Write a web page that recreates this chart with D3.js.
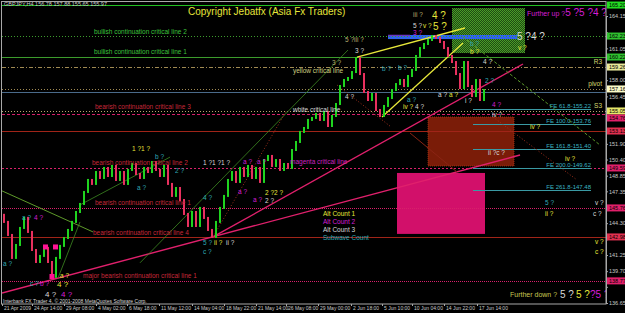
<!DOCTYPE html>
<html>
<head>
<meta charset="utf-8">
<script src="https://cdn.jsdelivr.net/npm/d3@7"></script>
<style>
body { margin: 0; background: #000; }
svg { display: block; font-family: "Liberation Sans", Arial, sans-serif; }
</style>
</head>
<body>
<svg id="chart" width="625" height="313"></svg>
<script>
// ---- data ----
// closes, one per 4px column (about two H4 bars each)
var firstOpen = 145.10;
var closes = [144.42,143.17,140.97,142.21,143.84,144.80,143.46,141.73,140.58,141.16,
  141.93,140.58,139.15,140.97,142.12,142.88,143.65,144.42,145.37,146.14,
  147.29,148.44,148.06,149.20,148.63,149.59,148.82,149.78,148.44,149.20,
  148.06,149.40,149.97,149.01,148.63,149.59,149.20,150.16,149.40,148.82,
  149.78,148.06,146.91,147.67,146.52,145.18,144.03,145.37,144.03,145.76,
  144.80,143.65,142.98,144.42,145.76,146.91,148.44,149.20,148.25,149.59,
  148.82,149.78,148.63,149.59,148.25,150.35,150.74,149.78,150.35,149.40,
  149.97,149.59,151.31,152.08,153.04,153.42,154.19,154.38,154.76,154.19,
  154.95,153.61,154.57,155.72,157.44,158.02,158.21,158.78,160.12,158.59,
  156.87,156.10,156.68,155.14,154.57,155.53,156.29,157.06,157.63,158.02,
  157.44,158.40,158.98,160.32,161.08,161.47,161.85,162.23,162.04,161.66,
  161.08,160.32,159.74,158.59,157.25,159.74,157.44,156.48,158.02,156.10,
  157.06];

var priceTicks = [164.15,162.60,161.05,159.50,158.00,156.45,154.90,153.40,151.90,150.40,
  148.85,147.35,145.80,144.30,142.75,141.25,139.70,138.20,136.65];

var dateIdx = [0,7.5,15.5,23.5,31.25,39.25,47.5,55.5,63.5,71,79,87.25,95,102.5,110.5,118.75];
var dateLabels = ["21 Apr 2009","24 Apr 14:00","29 Apr 08:00","4 May 02:00","6 May 18:00",
  "11 May 12:00","14 May 04:00","18 May 22:00","21 May 14:00","26 May 08:00","29 May 00:00",
  "2 Jun 18:00","5 Jun 10:00","10 Jun 04:00","14 Jun 22:00","17 Jun 14:00"];

// horizontal levels
var levelPrices = [165.20,162.23,160.22,159.26,157.16,156.87,155.05,154.76,153.13,149.59,145.76,142.98,138.77];
var levelKinds  = ["top","bull2","bull1","R3","pivot","bid","S3","bear3","red","bear2","bear1","bear4","major"];

// level names written on the chart [index, price, text, kind]
var levelNames = [
  [23, 162.61, "bullish continuation critical line 2", "bull"],
  [23, 160.70, "bullish continuation critical line 1", "bull"],
  [72.75, 158.88, "yellow critical line", "yellow"],
  [72.75, 155.14, "white critical line", "white"],
  [23.25, 155.43, "bearish continuation critical line 3", "bear"],
  [22.5, 150.07, "bearish continuation critical line 2", "bear"],
  [72, 150.16, "magenta critical line", "magenta"],
  [23.25, 146.24, "bearish continuation critical line 1", "bear"],
  [22.75, 143.36, "bearish continuation critical line 4", "bear"],
  [20.25, 139.24, "major bearish continuation critical line 1", "bear"],
  [150, 159.74, "R3", "pivotTxt"],
  [150, 157.63, "pivot", "pivotTxt"],
  [150, 155.53, "S3", "pivotTxt"]
];

// Fibonacci expansion levels
var feLevels = [155.22,153.76,151.40,149.62,147.48];
var feNames = ["FE 61.8-155.22","FE 100.0-153.76","FE 161.8-151.40","FE 200.0-149.62","FE 261.8-147.48"];
var feFrom = 117.75, feTo = 147.25;

// trend lines [i0, p0, i1, p1, kind]
var trendLines = [
  [88.75,160.22,115.75,163.00,"yellow"],
  [95,154.47,115.25,161.56,"yellow"],
  [52.75,142.98,130.25,159.55,"pink"],
  [0,137.61,129.5,150.83,"pink"],
  [115.25,162.14,149.5,151.79,"greenDash"],
  [-0.5,147.48,22.75,143.46,"green"],
  [34.5,140.50,86.5,160.89,"greenThin"],
  [19.5,146.05,42,150.63,"greenThin"],
  [14,139.04,19.5,144.42,"greenThin"],
  [83.75,157.54,97,153.60,"redDot"],
  [122.75,154.47,143.75,148.44,"redDot"],
  [102,152.94,113.75,149.20,"redLine"],
  [52.75,142.98,71,155.00,"redDot"]
];

// zones [i0, p0, i1, p1, kind]
var zones = [
  [112.5,164.91,130.75,160.60,"greenZone"],
  [106.5,154.47,128,149.78,"brownZone"],
  [98.75,149.11,120.75,143.27,"magentaZone"],
  [96.5,162.33,128.75,161.94,"blueBar"]
];

// pink square markers [index, price]
var markers = [[10.875,142.02],[13.375,142.02],[12.5,139.19]];

// wave counts [index, price, text, count]  count: 1 alt1, 2 alt2, 3 alt3, 4 subwave, 5 khaki
var waves = [
  [102.75,164.24,"iii ?",5],[102.75,163.19,"5 ?",3],[105.25,163.19,"v ?",1],[102.75,162.52,"3 ?",2],
  [85.75,161.85,"5 ?iii ?",5],[88.25,160.80,"3 ?",3],[82.5,159.65,"3 ?",5],
  [95,159.07,"b ?",4],[99,159.17,"b ?",4],[85.75,156.39,"4 ?",3],[101.25,156.10,"a ?",4],
  [100.25,155.43,"iv ?",1],[103.25,155.43,"4 ?",3],[109,156.58,"a ?",3],[111.75,156.58,"a ?",1],
  [115.75,156.01,"i ?",3],[120.75,157.92,"2 ?",4],[122.5,155.62,"4 ?",2],[122.5,154.67,"iv ?",3],
  [117,161.47,"b ?",4],[117,160.70,"b ?",1],[129,161.08,"v ?",1],[120.25,159.74,"4 ?",3],
  [132,153.52,"iv ?",1],[121.5,151.03,"ii ?c ?",3],[140.75,150.50,"iv ?",1],
  [135.75,145.18,"ii ?",1],[147.75,145.18,"c ?",3],[148.25,146.24,"v ?",3],[135.75,146.24,"5 ?",4],
  [148.25,142.50,"v ?",1],[148.25,141.54,"c ?",1],
  [7,138.48,"c ?",4],[9.5,138.48,"b ?",2],[14.5,139.24,"a ?",1],[5,144.80,"a ?",4],[8,144.80,"4 ?",2],
  [0.25,140.39,"a ?",4],[32.5,151.41,"1 ?1 ?",1],[38.25,150.64,"b ?",4],[33.75,147.67,"a ?",4],
  [43.25,149.30,"2 ?",4],[50.25,150.07,"1 ?1 ?1 ?",3],[60.25,150.16,"a ?",2],[63.75,150.16,"a ?",2],
  [59,147.29,"a ?",2],[62.75,146.52,"a ?",2],[65.75,147.19,"2 ?2 ?",1],[65.75,146.43,"2 ?",3],
  [50.25,146.72,"4 ?",4],[50.25,142.40,"5 ?",4],[53,142.40,"ii ?",1],[56,142.40,"ii ?",3],
  [50.25,141.54,"c ?",4]
];
// larger wave counts
var bigWaves = [
  [107.5,164.24,"4 ?",1],[107.75,163.19,"5 ?",1],[128.75,162.14,"5 ?4 ?",3],
  [139.5,137.42,"5 ?",3],[143.5,137.42,"5 ?",1],[147,137.42,"?5 ?",2]
];
// medium counts down at the April low
var lowWaves = [
  [13.75,138.45,"4 ?",1],[10.75,137.48,"4 ?",3],[14.75,137.48,"4 ?",2]
];
var countNames = ["Alt Count 1","Alt Count 2","Alt Count 3","Subwave Count"];

// ---- drawing ----
var W = 625, H = 313;
var svg = d3.select("#chart");
svg.append("rect").attr("width", W).attr("height", H).attr("fill", "#000");

var x = d3.scaleLinear().domain([0, 151]).range([2, 606]);
var y = d3.scaleLinear().domain([136.65, 164.15]).range([303, 16]);

var countColor = {1: "#e6e63a", 2: "#d61ed6", 3: "#d8d8d8", 4: "#2fa8b4", 5: "#b8b070"};

var levelStyle = {
  top:   {c: "#22c022", d: null, w: 1.2, box: "#22dd22"},
  bull2: {c: "#3c9c2c", d: "1,2", w: 1, box: "#2fc02f"},
  bull1: {c: "#3c9c2c", d: null, w: 1, box: "#2fc02f"},
  R3:    {c: "#a08a52", d: "4,2,1,2", w: 1, box: "#e8e89a"},
  pivot: {c: "#a08a52", d: "1,2", w: 1, box: "#fbfbc8"},
  bid:   {c: "#4a6a8a", d: null, w: 1, box: null},
  S3:    {c: "#b8a870", d: "1,2", w: 1, box: "#e6e66a"},
  bear3: {c: "#d8206a", d: "3,2", w: 1, box: "#e0206a"},
  red:   {c: "#a02418", d: null, w: 1, box: "#e03050"},
  bear2: {c: "#d8206a", d: "2,2", w: 1, box: "#e0206a"},
  bear1: {c: "#d8206a", d: "1,1", w: 1, box: "#e0206a"},
  bear4: {c: "#a02418", d: null, w: 1, box: "#e03050"},
  major: {c: "#d8206a", d: "1,1", w: 1, box: "#e0206a"}
};
var nameColor = {bull: "#3cc03c", yellow: "#d0d080", white: "#d8d8d8", bear: "#c8283a",
  magenta: "#d020c0", pivotTxt: "#d8d870"};

var plot = svg.append("g");
plot.append("clipPath").attr("id", "clip").append("rect")
  .attr("x", 2).attr("y", 2).attr("width", 604).attr("height", 302);
var inner = plot.append("g").attr("clip-path", "url(#clip)");

// hatch pattern for the green zone
var pat = svg.append("defs").append("pattern").attr("id", "hatch")
  .attr("width", 2).attr("height", 2).attr("patternUnits", "userSpaceOnUse");
pat.append("rect").attr("width", 2).attr("height", 2).attr("fill", "#1e4a12");
pat.append("rect").attr("width", 1).attr("height", 1).attr("fill", "#4a9a28");
pat.append("rect").attr("x", 1).attr("y", 1).attr("width", 1).attr("height", 1).attr("fill", "#4a9a28");

var zoneFill = {greenZone: "url(#hatch)", brownZone: "#7a1c08", magentaZone: "#d2106a", blueBar: "#2e62ee"};
inner.selectAll("rect.zone").data(zones).join("rect").attr("class", "zone")
  .attr("x", d => x(d[0])).attr("y", d => y(d[1]))
  .attr("width", d => x(d[2]) - x(d[0])).attr("height", d => y(d[3]) - y(d[1]))
  .attr("fill", d => zoneFill[d[4]])
  .attr("stroke", d => d[4] == "brownZone" ? "#b03a18" : "none")
  .attr("stroke-dasharray", "1,1").attr("stroke-width", 0.8);
// purple top edge of the blue bar
inner.append("line").attr("x1", x(zones[3][0])).attr("x2", x(102)).attr("y1", y(zones[3][1]) + 0.5)
  .attr("y2", y(zones[3][1]) + 0.5).attr("stroke", "#6a34c8").attr("stroke-width", 1.5);

// level lines
inner.selectAll("line.level").data(levelPrices).join("line").attr("class", "level")
  .attr("x1", 2).attr("x2", 606)
  .attr("y1", d => Math.round(y(d)) + 0.5).attr("y2", d => Math.round(y(d)) + 0.5)
  .attr("stroke", (d, i) => levelStyle[levelKinds[i]].c)
  .attr("stroke-width", (d, i) => levelStyle[levelKinds[i]].w)
  .attr("stroke-dasharray", (d, i) => levelStyle[levelKinds[i]].d);

// FE lines
inner.selectAll("line.fe").data(feLevels).join("line").attr("class", "fe")
  .attr("x1", x(feFrom)).attr("x2", x(feTo))
  .attr("y1", d => Math.round(y(d)) + 0.5).attr("y2", d => Math.round(y(d)) + 0.5)
  .attr("stroke", "#3a9aa4").attr("stroke-width", 1);
inner.selectAll("text.fe").data(feNames).join("text").attr("class", "fe")
  .attr("x", x(feTo)).attr("y", (d, i) => y(feLevels[i]) - 1)
  .attr("text-anchor", "end").attr("font-size", 6).attr("fill", "#3ab4c0").text(d => d);

// trend lines
var trendStyle = {
  yellow: {c: "#e8e83a", w: 1.3, d: null},
  pink: {c: "#e0206c", w: 1.4, d: null},
  greenDash: {c: "#5a9a2a", w: 1, d: "3,2"},
  green: {c: "#5e9a2a", w: 1, d: null},
  greenThin: {c: "#3e8a22", w: 0.8, d: null},
  redDot: {c: "#a0301c", w: 1, d: "1,2"},
  redLine: {c: "#8a2414", w: 1, d: null}
};
inner.selectAll("line.trend").data(trendLines).join("line").attr("class", "trend")
  .attr("x1", d => x(d[0])).attr("y1", d => y(d[1]))
  .attr("x2", d => x(d[2])).attr("y2", d => y(d[3]))
  .attr("stroke", d => trendStyle[d[4]].c).attr("stroke-width", d => trendStyle[d[4]].w)
  .attr("stroke-dasharray", d => trendStyle[d[4]].d);

// candles
var candles = closes.map((c, i) => ({i: i, o: i ? closes[i - 1] : firstOpen, c: c}));
inner.selectAll("rect.candle").data(candles).join("rect").attr("class", "candle")
  .attr("x", d => x(d.i + 0.5) - 1)
  .attr("y", d => y(Math.max(d.o, d.c)) - 1)
  .attr("width", 2)
  .attr("height", d => Math.abs(y(d.o) - y(d.c)) + 2)
  .attr("fill", d => d.c >= d.o ? "#1fd41f" : "#e8305e");

// markers
inner.selectAll("rect.mark").data(markers).join("rect").attr("class", "mark")
  .attr("x", d => x(d[0]) - 2.5).attr("y", d => y(d[1]) - 2.5)
  .attr("width", 5).attr("height", 5).attr("fill", "#ff1494");

// level names
inner.selectAll("text.lname").data(levelNames).join("text").attr("class", "lname")
  .attr("x", d => x(d[0])).attr("y", d => y(d[1]))
  .attr("dy", "0.35em").attr("font-size", 6.5)
  .attr("text-anchor", d => d[3] == "pivotTxt" ? "end" : "start")
  .attr("fill", d => nameColor[d[3]]).text(d => d[2]);

// wave counts
inner.selectAll("text.wave").data(waves).join("text").attr("class", "wave")
  .attr("x", d => x(d[0])).attr("y", d => y(d[1])).attr("dy", "0.35em")
  .attr("font-size", 6.5).attr("fill", d => countColor[d[3]]).text(d => d[2]);
inner.selectAll("text.bigwave").data(bigWaves).join("text").attr("class", "bigwave")
  .attr("x", d => x(d[0])).attr("y", d => y(d[1])).attr("dy", "0.35em")
  .attr("font-size", 10).attr("fill", d => countColor[d[3]]).text(d => d[2]);
inner.selectAll("text.lowwave").data(lowWaves).join("text").attr("class", "lowwave")
  .attr("x", d => x(d[0])).attr("y", d => y(d[1])).attr("dy", "0.35em")
  .attr("font-size", 8).attr("fill", d => countColor[d[3]]).text(d => d[2]);

// further up / down captions
inner.append("text").attr("x", x(131.25)).attr("y", y(164.43)).attr("dy", "0.35em")
  .attr("font-size", 7).attr("fill", "#d61ed6").text("Further up ?")
  .append("tspan").attr("font-size", 10).text("5 ?5 ?4 ?");
inner.append("text").attr("x", x(127)).attr("y", y(137.42)).attr("dy", "0.35em")
  .attr("font-size", 7).attr("fill", "#c8c850").text("Further down ?");

// count legend
inner.selectAll("text.legend").data(countNames).join("text").attr("class", "legend")
  .attr("x", x(80.25)).attr("y", (d, i) => y(145.18) + i * 8).attr("dy", "0.35em")
  .attr("font-size", 6.5).attr("fill", (d, i) => countColor[i + 1]).text(d => d);

// frame
svg.append("rect").attr("x", 1.5).attr("y", 1.5).attr("width", 604.5).attr("height", 302.5)
  .attr("fill", "none").attr("stroke", "#a8a8a8").attr("stroke-width", 1);

// price tags for levels, nudged apart so they don't sit on each other
var tagData = levelPrices.map((p, i) => ({p: p, box: levelStyle[levelKinds[i]].box, ty: y(p)}))
  .filter(d => d.box).sort((a, b) => a.ty - b.ty);
for (var k = 1; k < tagData.length; k++) {
  if (tagData[k].ty - tagData[k - 1].ty < 7) tagData[k].ty = tagData[k - 1].ty + 7;
}

// right price axis
var ya = svg.append("g").attr("transform", "translate(606,0)")
  .call(d3.axisRight(y).tickValues(priceTicks).tickFormat(d3.format(".2f")).tickSize(2));
ya.select(".domain").attr("stroke", "#a8a8a8");
ya.selectAll(".tick line").attr("stroke", "#a8a8a8");
ya.selectAll(".tick text").attr("fill", "#c8c8c8").attr("font-size", 5.5).attr("x", 3)
  .attr("font-family", "Liberation Sans, Arial, sans-serif");
// tick labels hidden under a tag are not shown
ya.selectAll(".tick").filter(d => tagData.some(t => Math.abs(t.ty - y(d)) < 6.5)).select("text").remove();

var tags = svg.append("g").selectAll("g").data(tagData)
  .join("g").attr("transform", d => "translate(607," + d.ty + ")");
tags.append("rect").attr("x", 0).attr("y", -3.5).attr("width", 18).attr("height", 7)
  .attr("fill", d => d.box);
tags.append("text").attr("x", 2).attr("dy", "0.35em").attr("font-size", 5.5)
  .attr("fill", "#000").text(d => d3.format(".2f")(d.p));

// bottom time axis
var xa = svg.append("g").attr("transform", "translate(0,304)")
  .call(d3.axisBottom(x).tickValues(dateIdx).tickFormat((d, i) => dateLabels[i]).tickSize(2));
xa.select(".domain").remove();
xa.selectAll(".tick line").attr("stroke", "#a8a8a8");
xa.selectAll(".tick text").attr("fill", "#c8c8c8").attr("font-size", 5).attr("text-anchor", "start")
  .attr("x", 1.5).attr("y", 2).attr("font-family", "Liberation Sans, Arial, sans-serif");

// captions
svg.append("text").attr("x", 4).attr("y", 6).attr("font-size", 5.5).attr("fill", "#c8c8c8")
  .text("GBPJPY,H4  156.78 157.88 155.65 155.97");
svg.append("text").attr("x", 188).attr("y", 15).attr("font-size", 10).attr("fill", "#e6e63a")
  .text("Copyright Jebatfx (Asia Fx Traders)");
svg.append("text").attr("x", 3).attr("y", 303).attr("font-size", 5).attr("fill", "#d8d8d8")
  .text("Interbank FX Trader 4, \u00a9 2001-2008 MetaQuotes Software Corp.");
</script>
</body>
</html>
